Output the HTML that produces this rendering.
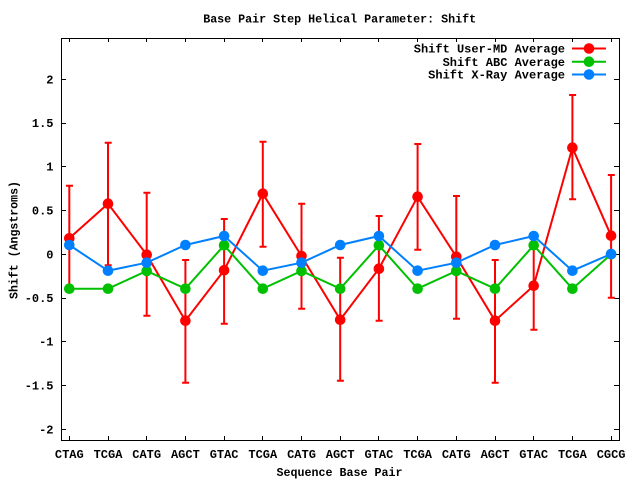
<!DOCTYPE html>
<html><head><meta charset="utf-8"><style>
html,body{margin:0;padding:0;background:#fff;}
svg{display:block;}
text{font-family:"Liberation Mono","DejaVu Sans Mono",monospace;font-weight:bold;font-size:12px;fill:#000;}
</style></head><body>
<svg width="640" height="480" viewBox="0 0 640 480" xmlns="http://www.w3.org/2000/svg">
<rect x="0" y="0" width="640" height="480" fill="#fff"/>
<!-- title -->
<text x="339.7" y="22.5" text-anchor="middle" textLength="273" lengthAdjust="spacingAndGlyphs">Base Pair Step Helical Parameter: Shift</text>
<!-- border -->
<rect x="61.5" y="38.5" width="558" height="402" fill="none" stroke="#000" stroke-width="1"/>
<!-- y ticks -->
<g stroke="#000" stroke-width="1">
<path d="M61 79.5h5M619 79.5h-5M61 123.5h5M619 123.5h-5M61 166.5h5M619 166.5h-5M61 210.5h5M619 210.5h-5M61 254.5h5M619 254.5h-5M61 298.5h5M619 298.5h-5M61 341.5h5M619 341.5h-5M61 385.5h5M619 385.5h-5M61 429.5h5M619 429.5h-5"/>
<path d="M69.5 440v-4M69.5 38v4M108.5 440v-4M108.5 38v4M146.5 440v-4M146.5 38v4M185.5 440v-4M185.5 38v4M224.5 440v-4M224.5 38v4M262.5 440v-4M262.5 38v4M301.5 440v-4M301.5 38v4M340.5 440v-4M340.5 38v4M378.5 440v-4M378.5 38v4M417.5 440v-4M417.5 38v4M456.5 440v-4M456.5 38v4M495.5 440v-4M495.5 38v4M533.5 440v-4M533.5 38v4M572.5 440v-4M572.5 38v4M611.5 440v-4M611.5 38v4"/>
</g>
<!-- y tick labels -->
<g text-anchor="end">
<text x="53.5" y="83.5">2</text>
<text x="53.5" y="127">1.5</text>
<text x="53.5" y="170.5">1</text>
<text x="53.5" y="214.5">0.5</text>
<text x="53.5" y="258.5">0</text>
<text x="53.5" y="302">-0.5</text>
<text x="53.5" y="345.5">-1</text>
<text x="53.5" y="389.5">-1.5</text>
<text x="53.5" y="433.5">-2</text>
</g>
<!-- x tick labels -->
<g text-anchor="middle">
<text x="69.3" y="458">CTAG</text>
<text x="108" y="458">TCGA</text>
<text x="146.7" y="458">CATG</text>
<text x="185.4" y="458">AGCT</text>
<text x="224.1" y="458">GTAC</text>
<text x="262.8" y="458">TCGA</text>
<text x="301.5" y="458">CATG</text>
<text x="340.2" y="458">AGCT</text>
<text x="378.9" y="458">GTAC</text>
<text x="417.6" y="458">TCGA</text>
<text x="456.3" y="458">CATG</text>
<text x="495" y="458">AGCT</text>
<text x="533.7" y="458">GTAC</text>
<text x="572.4" y="458">TCGA</text>
<text x="611.1" y="458">CGCG</text>
</g>
<!-- axis titles -->
<text x="339.5" y="476" text-anchor="middle" textLength="126" lengthAdjust="spacingAndGlyphs">Sequence Base Pair</text>
<text transform="translate(17.5,240) rotate(-90)" x="0" y="0" text-anchor="middle" textLength="118" lengthAdjust="spacingAndGlyphs">Shift (Angstroms)</text>

<!-- Red series: error bars -->
<g stroke="#ff0000" stroke-width="2" fill="none">
<path d="M69.3 185.7V291M66 185.7h7M66 291h7
M108 142.7V265.3M104.7 142.7h7M104.7 265.3h7
M146.7 192.7V315.7M143.4 192.7h7M143.4 315.7h7
M185.4 260V382.7M182.1 260h7M182.1 382.7h7
M224.1 219V323.7M220.8 219h7M220.8 323.7h7
M262.8 141.7V246.7M259.5 141.7h7M259.5 246.7h7
M301.5 203.7V308.7M298.2 203.7h7M298.2 308.7h7
M340.2 257.7V380.7M336.9 257.7h7M336.9 380.7h7
M378.9 216V320.7M375.6 216h7M375.6 320.7h7
M417.6 144V249.7M414.3 144h7M414.3 249.7h7
M456.3 196V318.7M453 196h7M453 318.7h7
M495 260V382.7M491.7 260h7M491.7 382.7h7
M533.7 242V329.7M530.4 242h7M530.4 329.7h7
M572.4 95V199.3M569.1 95h7M569.1 199.3h7
M611.1 175V297.7M607.8 175h7M607.8 297.7h7"/>
<polyline points="69.3,238.3 108,203.7 146.7,254.7 185.4,320.7 224.1,270.3 262.8,193.7 301.5,256 340.2,319.7 378.9,268.7 417.6,196.7 456.3,256.7 495,320.7 533.7,285.7 572.4,147.7 611.1,235.7"/>
</g>
<g fill="#ff0000">
<circle cx="69.3" cy="238.3" r="5.3"/><circle cx="108" cy="203.7" r="5.3"/><circle cx="146.7" cy="254.7" r="5.3"/><circle cx="185.4" cy="320.7" r="5.3"/><circle cx="224.1" cy="270.3" r="5.3"/><circle cx="262.8" cy="193.7" r="5.3"/><circle cx="301.5" cy="256" r="5.3"/><circle cx="340.2" cy="319.7" r="5.3"/><circle cx="378.9" cy="268.7" r="5.3"/><circle cx="417.6" cy="196.7" r="5.3"/><circle cx="456.3" cy="256.7" r="5.3"/><circle cx="495" cy="320.7" r="5.3"/><circle cx="533.7" cy="285.7" r="5.3"/><circle cx="572.4" cy="147.7" r="5.3"/><circle cx="611.1" cy="235.7" r="5.3"/>
</g>

<!-- Green series -->
<polyline fill="none" stroke="#00c000" stroke-width="2" points="69.3,288.7 108,288.7 146.7,271 185.4,288.7 224.1,245.3 262.8,288.7 301.5,271 340.2,288.7 378.9,245.3 417.6,288.7 456.3,271 495,288.7 533.7,245.3 572.4,288.7 611.1,254.3"/>
<g fill="#00c000">
<circle cx="69.3" cy="288.7" r="5.3"/><circle cx="108" cy="288.7" r="5.3"/><circle cx="146.7" cy="271" r="5.3"/><circle cx="185.4" cy="288.7" r="5.3"/><circle cx="224.1" cy="245.3" r="5.3"/><circle cx="262.8" cy="288.7" r="5.3"/><circle cx="301.5" cy="271" r="5.3"/><circle cx="340.2" cy="288.7" r="5.3"/><circle cx="378.9" cy="245.3" r="5.3"/><circle cx="417.6" cy="288.7" r="5.3"/><circle cx="456.3" cy="271" r="5.3"/><circle cx="495" cy="288.7" r="5.3"/><circle cx="533.7" cy="245.3" r="5.3"/><circle cx="572.4" cy="288.7" r="5.3"/><circle cx="611.1" cy="254.3" r="5.3"/>
</g>

<!-- Blue series -->
<polyline fill="none" stroke="#0080ff" stroke-width="2" points="69.3,245 108,270.7 146.7,262.7 185.4,245 224.1,236 262.8,270.7 301.5,262.7 340.2,245 378.9,236 417.6,270.7 456.3,262.7 495,245 533.7,236 572.4,270.7 611.1,254"/>
<g fill="#0080ff">
<circle cx="69.3" cy="245" r="5.3"/><circle cx="108" cy="270.7" r="5.3"/><circle cx="146.7" cy="262.7" r="5.3"/><circle cx="185.4" cy="245" r="5.3"/><circle cx="224.1" cy="236" r="5.3"/><circle cx="262.8" cy="270.7" r="5.3"/><circle cx="301.5" cy="262.7" r="5.3"/><circle cx="340.2" cy="245" r="5.3"/><circle cx="378.9" cy="236" r="5.3"/><circle cx="417.6" cy="270.7" r="5.3"/><circle cx="456.3" cy="262.7" r="5.3"/><circle cx="495" cy="245" r="5.3"/><circle cx="533.7" cy="236" r="5.3"/><circle cx="572.4" cy="270.7" r="5.3"/><circle cx="611.1" cy="254" r="5.3"/>
</g>

<!-- Legend -->
<g text-anchor="end">
<text x="565" y="52.5">Shift User-MD Average</text>
<text x="565" y="65.8">Shift ABC Average</text>
<text x="565" y="78.5">Shift X-Ray Average</text>
</g>
<path d="M572 48.5h34" stroke="#ff0000" stroke-width="2"/>
<circle cx="589" cy="48.5" r="5.3" fill="#ff0000"/>
<path d="M572 61.7h34" stroke="#00c000" stroke-width="2"/>
<circle cx="589" cy="61.7" r="5.3" fill="#00c000"/>
<path d="M572 74.5h34" stroke="#0080ff" stroke-width="2"/>
<circle cx="589" cy="74.5" r="5.3" fill="#0080ff"/>
</svg>
</body></html>
